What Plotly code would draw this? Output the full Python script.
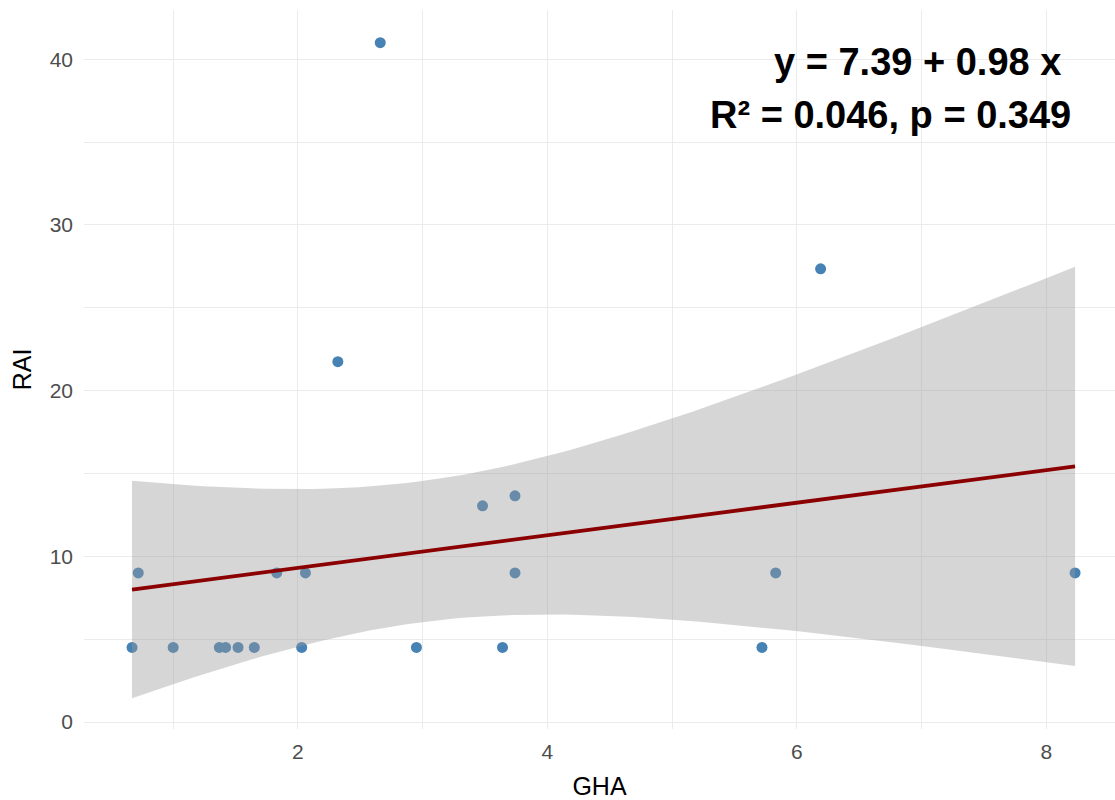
import numpy as np
import plotly.graph_objects as go

# ---- data ----
gha = [0.67, 0.72, 1.00, 1.37, 1.42, 1.52, 1.65, 1.83, 2.03, 2.06, 2.32,
       2.66, 2.95, 3.48, 3.64, 3.74, 3.74, 5.72, 5.83, 6.19, 8.23]
rai = [4.5, 9.0, 4.5, 4.5, 4.5, 4.5, 4.5, 9.0, 4.5, 9.0, 21.75,
       41.0, 4.5, 13.05, 4.5, 13.65, 9.0, 4.5, 9.0, 27.35, 9.0]
eq_text = "y = 7.39 + 0.98 x"
stat_text = "R² = 0.046, p = 0.349"
x_title = "GHA"
y_title = "RAI"
t_crit = 2.093  # t(0.975, df = n - 2 = 19)

x = np.array(gha)
y = np.array(rai)
n = len(x)
slope, intercept = np.polyfit(x, y, 1)
resid = y - (intercept + slope * x)
s = np.sqrt(np.sum(resid ** 2) / (n - 2))
xbar = x.mean()
sxx = np.sum((x - xbar) ** 2)
xs = np.linspace(x.min(), x.max(), 80)
yhat = intercept + slope * xs
se = s * np.sqrt(1.0 / n + (xs - xbar) ** 2 / sxx)
upper = yhat + t_crit * se
lower = yhat - t_crit * se

FONT = "Liberation Sans, Arial, sans-serif"

fig = go.Figure()
# points (drawn under the ribbon, as in ggplot)
fig.add_trace(go.Scatter(x=gha, y=rai, mode="markers",
                         marker=dict(color="#4682B4", size=11, line=dict(width=0)),
                         showlegend=False, hoverinfo="skip"))
# confidence ribbon
fig.add_trace(go.Scatter(x=np.concatenate([xs, xs[::-1]]),
                         y=np.concatenate([upper, lower[::-1]]),
                         fill="toself", fillcolor="rgba(153,153,153,0.4)",
                         line=dict(width=0), mode="lines",
                         showlegend=False, hoverinfo="skip"))
# regression line
fig.add_trace(go.Scatter(x=xs, y=yhat, mode="lines",
                         line=dict(color="#8B0000", width=3.8),
                         showlegend=False, hoverinfo="skip"))

fig.update_layout(
    width=1115, height=800,
    margin=dict(l=84, r=0, t=10, b=71),
    paper_bgcolor="white", plot_bgcolor="white",
    font=dict(family=FONT),
    showlegend=False,
    xaxis=dict(range=[0.285, 8.55], tick0=0, dtick=2,
               showgrid=True, gridcolor="#ebebeb", gridwidth=1.4,
               minor=dict(dtick=1, tick0=0, showgrid=True, gridcolor="#ebebeb", gridwidth=0.9),
               zeroline=False, showline=False, ticks="",
               tickfont=dict(size=21, color="#4d4d4d", family=FONT),
               ticklabelstandoff=8,
               title=dict(text=x_title, font=dict(size=25, color="black", family=FONT), standoff=16)),
    yaxis=dict(range=[-0.42, 42.97], tick0=0, dtick=10,
               showgrid=True, gridcolor="#ebebeb", gridwidth=1.4,
               minor=dict(dtick=5, tick0=0, showgrid=True, gridcolor="#ebebeb", gridwidth=0.9),
               zeroline=False, showline=False, ticks="",
               tickfont=dict(size=21, color="#4d4d4d", family=FONT),
               ticklabelstandoff=10,
               title=dict(text=y_title, font=dict(size=25, color="black", family=FONT), standoff=10)),
    annotations=[
        dict(text="<b>" + eq_text + "</b>", xref="paper", yref="paper",
             x=0.9496, y=0.9277, xanchor="right", yanchor="middle", showarrow=False,
             font=dict(size=38, color="black", family=FONT)),
        dict(text="<b>" + stat_text + "</b>", xref="paper", yref="paper",
             x=0.9593, y=0.854, xanchor="right", yanchor="middle", showarrow=False,
             font=dict(size=38, color="black", family=FONT)),
    ],
)

fig.write_html("out.html")
